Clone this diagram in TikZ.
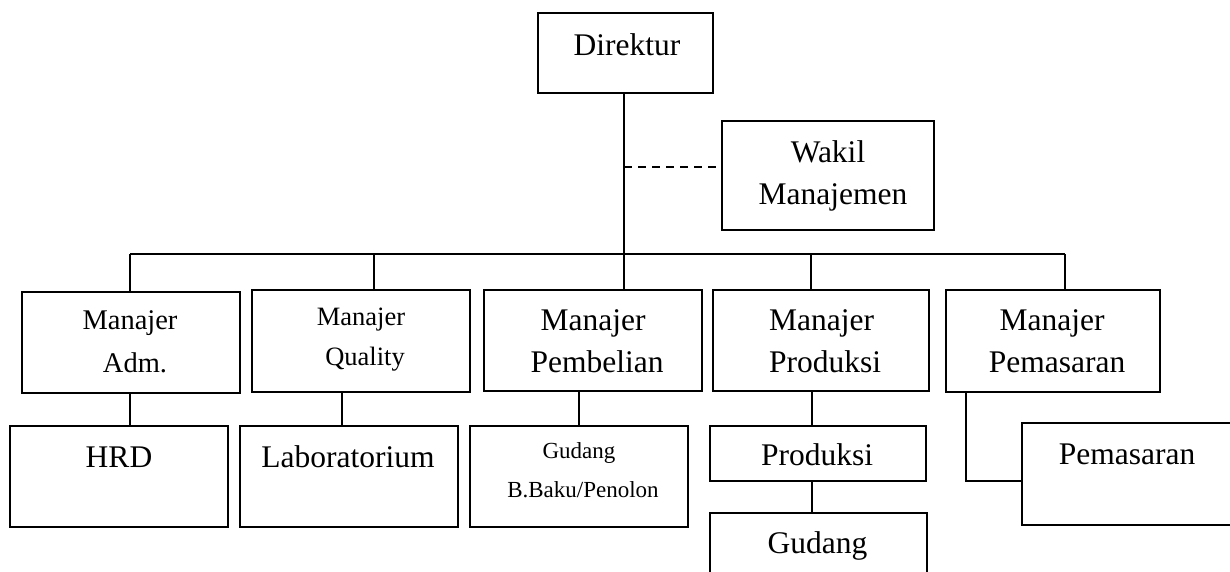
\documentclass[tikz,border=0pt]{standalone}
\usepackage{fontspec}
\setmainfont{Liberation Serif}
\begin{document}
\begin{tikzpicture}[x=1pt,y=-1pt,
  box/.style={draw,line width=1.5pt,inner sep=0pt,rectangle},
  conn/.style={line width=1.5pt},
  txt/.style={inner sep=0pt,anchor=base,font=\fontsize{31.5}{38}\selectfont},
  txtadm/.style={txt,font=\fontsize{28.5}{34}\selectfont},
  txtq/.style={txt,font=\fontsize{26.5}{32}\selectfont},
  txtg/.style={txt,font=\fontsize{23}{28}\selectfont}]
\useasboundingbox (0,0) rectangle (1230,571);
\clip (0,0) rectangle (1230,571);
% boxes
\node[box,minimum width=175pt,minimum height=80pt] (dir) at (625.5,53) {};
\node[box,minimum width=212pt,minimum height=109pt] (wakil) at (828,175.5) {};
\node[box,minimum width=218pt,minimum height=101pt] (madm) at (131,342.5) {};
\node[box,minimum width=218pt,minimum height=102pt] (mqual) at (361,341) {};
\node[box,minimum width=218pt,minimum height=101pt] (mpemb) at (593,340.5) {};
\node[box,minimum width=216pt,minimum height=101pt] (mprod) at (821,340.5) {};
\node[box,minimum width=214pt,minimum height=102pt] (mpem) at (1053,341) {};
\node[box,minimum width=218pt,minimum height=101pt] (hrd) at (119,476.5) {};
\node[box,minimum width=218pt,minimum height=101pt] (lab) at (349,476.5) {};
\node[box,minimum width=218pt,minimum height=101pt] (gbb) at (579,476.5) {};
\node[box,minimum width=216pt,minimum height=55pt] (prod) at (818,453.5) {};
\node[box,minimum width=217pt,minimum height=107pt] (gud) at (818.5,566.5) {};
\node[box,minimum width=268pt,minimum height=102pt] (pems) at (1156,474) {};
% texts
\node[txt] (tdir) at (627,55) {Direktur};
\node[txt] (tw1) at (828,162) {Wakil};
\node[txt] (tw2) at (833,204) {Manajemen};
\node[txtadm] (ta1) at (130,329) {Manajer};
\node[txtadm] (ta2) at (135,372) {Adm.};
\node[txtq] (tq1) at (361,325) {Manajer};
\node[txtq] (tq2) at (365,365) {Quality};
\node[txt] (tp1) at (593,330) {Manajer};
\node[txt] (tp2) at (597,372) {Pembelian};
\node[txt] (tr1) at (821.5,330) {Manajer};
\node[txt] (tr2) at (825,372) {Produksi};
\node[txt] (ts1) at (1052,330) {Manajer};
\node[txt] (ts2) at (1057,372) {Pemasaran};
\node[txt] (thrd) at (119,467) {HRD};
\node[txt] (tlab) at (348,467) {Laboratorium};
\node[txtg] (tg1) at (579,458) {Gudang};
\node[txtg] (tg2) at (583,497) {B.Baku/Penolon};
\node[txt] (tprod) at (817,465) {Produksi};
\node[txt] (tgud) at (817.5,553) {Gudang};
\node[txt] (tpems) at (1127,464) {Pemasaran};
% connector points
\coordinate (top) at (624,93);
\coordinate (trunk) at (624,167);
\coordinate (bar) at (624,254);
\coordinate (bl) at (130,254);
\coordinate (br) at (1065,254);
\coordinate (dq) at (374,254);
\coordinate (dr) at (811,254);
\coordinate (pe) at (966,391);
\coordinate (pc) at (966,481);
% connectors
\draw[conn] (top) -- (bar);
\draw[conn,dash pattern=on 8pt off 6pt] (trunk) -- (trunk -| wakil.west);
\draw[conn] (bl) -- (br);
\draw[conn] (bl) -- (bl |- madm.north);
\draw[conn] (dq) -- (dq |- mqual.north);
\draw[conn] (bar) -- (bar |- mpemb.north);
\draw[conn] (dr) -- (dr |- mprod.north);
\draw[conn] (br) -- (br |- mpem.north);
\draw[conn] (madm.south -| bl) -- (hrd.north -| bl);
\draw[conn] ([xshift=-19pt]mqual.south) -- ([xshift=-19pt]mqual.south |- lab.north);
\draw[conn] (gbb.north) -- (gbb.north |- mpemb.south);
\draw[conn] ([xshift=-6pt]prod.north) -- ([xshift=-6pt]prod.north |- mprod.south);
\draw[conn] ([xshift=-6pt]prod.south) -- ([xshift=-6pt]prod.south |- gud.north);
\draw[conn] (pe |- mpem.south) -- (pc) -- (pc -| pems.west);
\end{tikzpicture}
\end{document}
